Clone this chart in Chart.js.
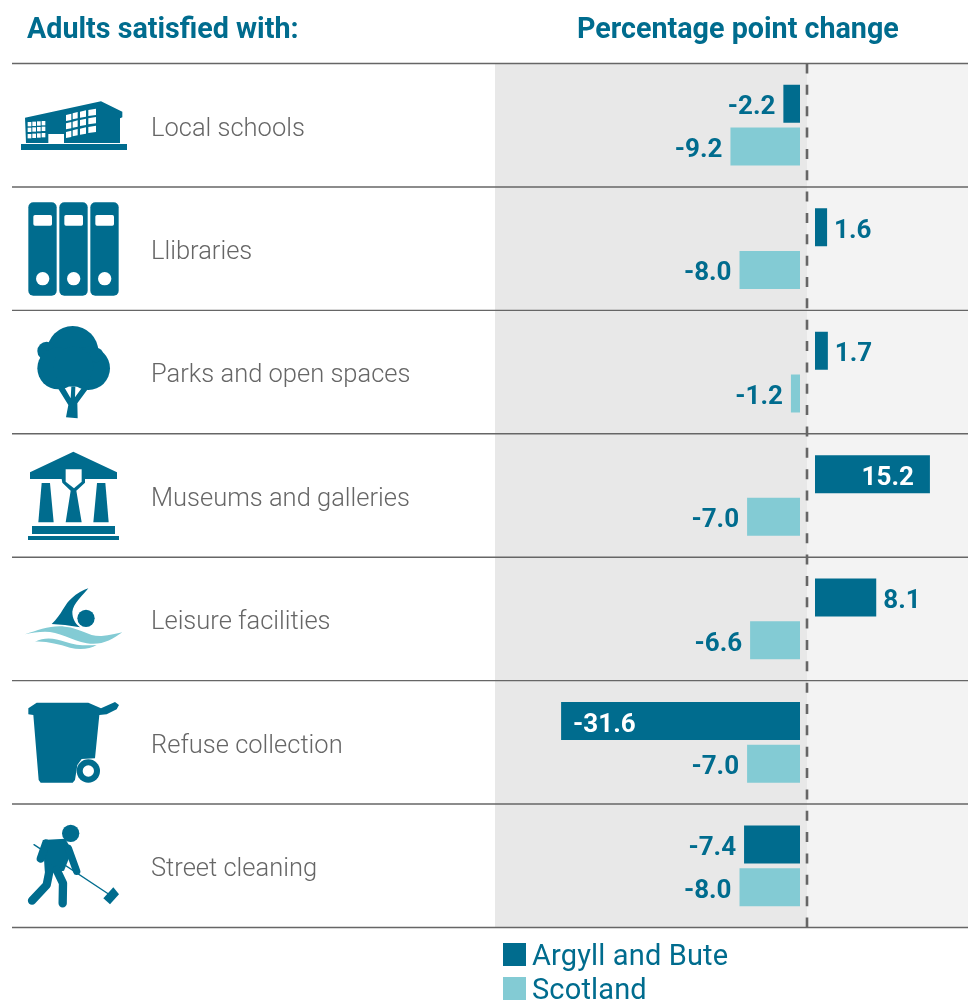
<!DOCTYPE html>
<html><head><meta charset="utf-8">
<style>html,body{margin:0;padding:0;background:#fff}#w{position:relative;width:968px;height:1000px;overflow:hidden}canvas{display:block}</style>
<script src="https://cdn.jsdelivr.net/npm/chart.js@4/dist/chart.umd.min.js"></script>
</head><body><div id="w"><canvas id="c" width="968" height="1000"></canvas></div>
<script>
const categories=['Local schools','Llibraries','Parks and open spaces','Museums and galleries','Leisure facilities','Refuse collection','Street cleaning'];
const argyllValues=[-2.2,1.6,1.7,15.2,8.1,-31.6,-7.4];
const scotlandValues=[-9.2,-8.0,-1.2,-7.0,-6.6,-7.0,-8.0];
const seriesNames=['Argyll and Bute','Scotland'];
const headers=['Adults satisfied with:','Percentage point change'];
const TEAL='#006c8e',AQUA='#83cbd4',GREY='#666666';
const PX_PER_UNIT=7.56, ZERO_X=807;
const FONT='Roboto, sans-serif';
// Bars stand a small gap away from the dashed zero line on either side.
const floated=v=>v.map(x=>{const s=x<0?-7/PX_PER_UNIT:8/PX_PER_UNIT;return [s,x+s];});

function P(d){return new Path2D(d);}
function icon(ctx,ox,oy,fn){ctx.save();ctx.translate(ox,oy);ctx.scale(1/3,1/3);ctx.fillStyle=TEAL;ctx.strokeStyle=TEAL;ctx.lineCap='round';ctx.lineJoin='round';fn(ctx);ctx.restore();}
function circle(ctx,x,y,r,c){ctx.beginPath();ctx.arc(x,y,r,0,Math.PI*2);ctx.fillStyle=c||TEAL;ctx.fill();}
function drawIcons(ctx){
 // school
 icon(ctx,0,0,c=>{
  c.fillRect(63,432,318,18);
  c.fill(P('M75,353 L303,304 L367,335 L367,352 L360,355 L360,429 L192,429 L192,402 L145,402 L145,429 L78,429 Z'));
  c.fillStyle='#fff';
  const lx=[83,97,111,125], ly=[366,383,402];
  lx.forEach((x,i)=>ly.forEach(y=>c.fillRect(x,y-i*1,11,13)));
  const rx=[198,218,240,265], rw=[16,15,18,23], ry=[345,370,396];
  rx.forEach((x,i)=>ry.forEach(y=>{const t=i*5;c.beginPath();c.moveTo(x,y-t);c.lineTo(x+rw[i],y-t-4);c.lineTo(x+rw[i],y-t+15);c.lineTo(x,y-t+18);c.closePath();c.fill();}));
 });
 // binders
 icon(ctx,0,0,c=>{
  [85,178,271].forEach(x=>{
   c.fillStyle=TEAL;c.beginPath();c.roundRect(x,607,85,280,15);c.fill();
   c.fillStyle='#fff';c.beginPath();c.roundRect(x+15,645,56,32,5);c.fill();
   circle(c,x+43,836,20,'#fff');
  });
 });
 // tree
 icon(ctx,0,310,c=>{
  circle(c,218,125,77);circle(c,140,123,28);circle(c,175,175,63);circle(c,265,175,65);circle(c,288,135,22);circle(c,220,170,60);
  c.fillStyle=TEAL;c.fill(P('M198,322 L205,285 L172,232 L192,230 L212,265 L214,230 L226,230 L225,262 L248,230 L264,236 L232,280 L233,325 Z'));
 });
 // museum
 icon(ctx,0,310,c=>{
  c.fill(P('M220,425 L351,487 L351,507 L255,507 L255,518 L229,542 L245,637 L197,637 L212,542 L187,518 L185,507 L90,507 L90,487 Z'));
  c.fill(P('M125,519 L150,519 L161,637 L115,637 Z'));
  c.fill(P('M291,519 L316,519 L326,637 L280,637 Z'));
  c.fillRect(96,648,249,24);c.fillRect(84,678,273,12);
  c.fillStyle='#fff';c.fill(P('M197,478 L245,478 L245,515 L222,535 L197,515 Z'));
 });
 // swimmer
 icon(ctx,15,575,c=>{
  c.fill(P('M110,147 C140,120 150,85 170,70 C185,55 205,45 220,40 C205,60 175,85 172,110 C172,130 180,145 195,157 L150,150 Z'));
  circle(c,213,130,26);
  c.fillStyle=AQUA;
  c.fill(P('M30,178 C70,165 110,150 150,155 C200,160 220,185 260,183 C285,182 305,175 322,172 C290,195 260,212 215,205 C170,195 130,170 90,170 C70,170 50,173 30,178 Z'));
  c.fill(P('M60,200 C90,185 120,190 150,200 C185,212 215,212 245,210 C225,222 195,225 165,218 C130,208 95,198 60,200 Z'));
 });
 // bin
 icon(ctx,0,680,c=>{
  c.fill(P('M85,103 L85,85 L110,68 L265,68 L303,85 L345,66 L357,75 L350,88 L320,103 L298,105 L285,235 L245,237 L232,255 L225,300 L218,308 L122,308 L116,300 L100,105 Z'));
  circle(c,265,273,35);circle(c,265,273,17,'#fff');
 });
 // sweeper
 icon(ctx,0,680,c=>{
  circle(c,212,460,26);
  c.lineWidth=4;c.beginPath();c.moveTo(102,494);c.lineTo(330,645);c.stroke();
  c.fill(P('M128,480 L196,476 L216,512 L192,572 L135,582 Z'));
  c.lineWidth=24;c.beginPath();c.moveTo(138,490);c.lineTo(122,536);c.stroke();
  c.lineWidth=22;c.beginPath();c.moveTo(205,505);c.lineTo(230,574);c.stroke();
  c.lineWidth=25;c.beginPath();c.moveTo(150,565);c.lineTo(140,615);c.lineTo(96,662);c.stroke();
  c.beginPath();c.moveTo(170,570);c.lineTo(189,610);c.lineTo(188,670);c.stroke();
  c.fill(P('M310,655 L340,622 L357,643 L330,673 Z'));
 });
}

const framePlugin={id:'frame',
 beforeDatasetsDraw(chart){
  const {ctx,chartArea:a,scales:{x}}=chart,z=x.getPixelForValue(0);
  ctx.save();
  ctx.fillStyle='#e8e8e8';ctx.fillRect(a.left,a.top,z-a.left,a.bottom-a.top);
  ctx.fillStyle='#f3f3f3';ctx.fillRect(z,a.top,a.right-z,a.bottom-a.top);
  ctx.restore();
 },
 afterDatasetsDraw(chart){
  const {ctx,chartArea:a,scales:{x,y}}=chart,z=x.getPixelForValue(0);
  ctx.save();
  // separators between the rows
  ctx.strokeStyle=GREY;ctx.lineWidth=1.4;
  const band=(a.bottom-a.top)/categories.length;
  for(let i=0;i<=categories.length;i++){const yy=y.getPixelForValue(i)-band/2;ctx.beginPath();ctx.moveTo(12,yy);ctx.lineTo(a.right,yy);ctx.stroke();}
  // zero line
  ctx.strokeStyle=GREY;ctx.lineWidth=2.6;ctx.setLineDash([10,11.35]);
  ctx.beginPath();ctx.moveTo(z,a.top);ctx.lineTo(z,a.bottom+1);ctx.stroke();ctx.setLineDash([]);
  // value labels
  ctx.font='700 26px '+FONT;ctx.textBaseline='middle';
  [argyllValues,scotlandValues].forEach((vals,d)=>{
   const meta=chart.getDatasetMeta(d);
   vals.forEach((v,i)=>{
    const b=meta.data[i],t=v.toFixed(1),long=Math.abs(b.x-b.base)>100;
    let tx;
    if(long){ctx.fillStyle='#fff';if(v>0){ctx.textAlign='right';tx=b.x-16;}else{ctx.textAlign='left';tx=b.x+12;}}
    else{ctx.fillStyle=TEAL;if(v>0){ctx.textAlign='left';tx=b.x+7;}else{ctx.textAlign='right';tx=b.x-8;}}
    ctx.fillText(t,tx,b.y+4);
   });
  });
  // headers
  ctx.fillStyle=TEAL;ctx.font='700 28.7px '+FONT;ctx.textAlign='left';ctx.textBaseline='alphabetic';
  ctx.fillText(headers[0],27,38);ctx.fillText(headers[1],577,38);
  // legend
  ctx.font='400 29px '+FONT;ctx.textBaseline='alphabetic';ctx.letterSpacing='0.15px';
  chart.data.datasets.forEach((ds,i)=>{
   const top=943+i*34;
   ctx.fillStyle=ds.backgroundColor;ctx.fillRect(503,top,23,23);
   ctx.fillStyle=TEAL;ctx.fillText(ds.label,532,top+22);
  });
  ctx.letterSpacing='0px';
  drawIcons(ctx);
  ctx.restore();
 }};

new Chart(document.getElementById('c'),{
 type:'bar',
 data:{labels:categories,datasets:[
  {label:seriesNames[0],data:floated(argyllValues),backgroundColor:TEAL,borderWidth:0,borderSkipped:false},
  {label:seriesNames[1],data:floated(scotlandValues),backgroundColor:AQUA,borderWidth:0,borderSkipped:false}
 ]},
 options:{
  indexAxis:'y',responsive:false,animation:false,
  layout:{padding:{left:151,right:0,top:63.5,bottom:72.5}},
  datasets:{bar:{categoryPercentage:0.692,barPercentage:0.89}},
  plugins:{legend:{display:false},tooltip:{enabled:false},title:{display:false}},
  scales:{
   x:{display:false,type:'linear',min:(495-ZERO_X)/PX_PER_UNIT,max:(968-ZERO_X)/PX_PER_UNIT,grid:{display:false}},
   y:{type:'category',grid:{display:false},border:{display:false},
      afterFit(s){s.width=344;},
      ticks:{crossAlign:'far',color:GREY,padding:0,labelOffset:4,font:{family:FONT,size:25.5,weight:'300'}}}
  }
 },
 plugins:[framePlugin]
});
</script></body></html>
